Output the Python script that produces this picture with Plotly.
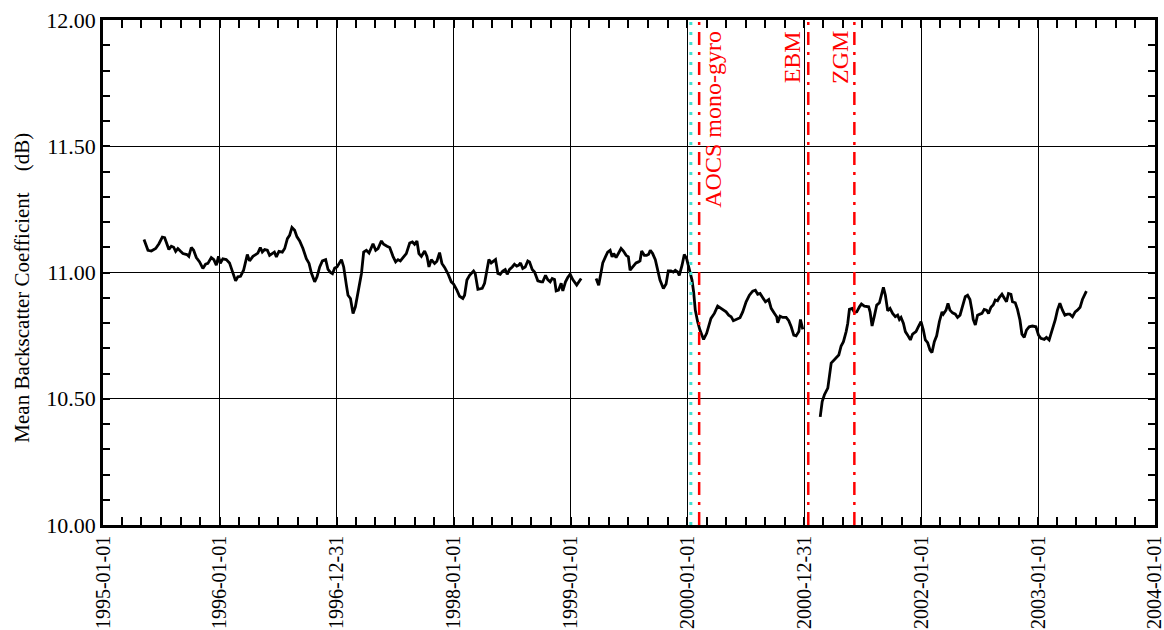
import pandas as pd
import plotly.graph_objects as go

# Mean backscatter coefficient (dB), time in decimal years, three continuous segments
seg1_t = [1995.351, 1995.385, 1995.414, 1995.451, 1995.479, 1995.508, 1995.528, 1995.542, 1995.564, 1995.585,
          1995.605, 1995.622, 1995.641, 1995.662, 1995.684, 1995.718, 1995.735, 1995.756, 1995.776, 1995.799,
          1995.827, 1995.855, 1995.878, 1995.898, 1995.927, 1995.949, 1995.970, 1995.989, 1996.004, 1996.026,
          1996.055, 1996.083, 1996.112, 1996.135, 1996.154, 1996.177, 1996.203, 1996.235, 1996.254, 1996.283,
          1996.306, 1996.325, 1996.346, 1996.363, 1996.383, 1996.406, 1996.425, 1996.449, 1996.466, 1996.483,
          1996.505, 1996.534, 1996.554, 1996.577, 1996.596, 1996.616, 1996.639, 1996.659, 1996.682, 1996.710,
          1996.739, 1996.762, 1996.782, 1996.810, 1996.830, 1996.853, 1996.876, 1996.904, 1996.924, 1996.945,
          1996.962, 1996.981, 1997.001, 1997.039, 1997.058, 1997.081, 1997.095, 1997.116, 1997.138, 1997.158,
          1997.181, 1997.210, 1997.229, 1997.252, 1997.275, 1997.295, 1997.309, 1997.332, 1997.352, 1997.381,
          1997.400, 1997.429, 1997.452, 1997.480, 1997.503, 1997.523, 1997.543, 1997.571, 1997.594, 1997.623,
          1997.646, 1997.665, 1997.685, 1997.702, 1997.723, 1997.751, 1997.771, 1997.788, 1997.808, 1997.836,
          1997.856, 1997.879, 1997.899, 1997.922, 1997.950, 1997.979, 1997.999, 1998.027, 1998.050, 1998.078,
          1998.093, 1998.113, 1998.136, 1998.170, 1998.184, 1998.207, 1998.244, 1998.264, 1998.278, 1998.301,
          1998.321, 1998.341, 1998.358, 1998.378, 1998.398, 1998.420, 1998.441, 1998.458, 1998.478, 1998.501,
          1998.520, 1998.540, 1998.557, 1998.572, 1998.591, 1998.612, 1998.634, 1998.649, 1998.672, 1998.692,
          1998.720, 1998.749, 1998.762, 1998.786, 1998.805, 1998.826, 1998.843, 1998.863, 1998.877, 1998.897,
          1998.920, 1998.934, 1998.957, 1998.976, 1998.997, 1999.019, 1999.053, 1999.091]
seg1_v = [11.131, 11.088, 11.085, 11.095, 11.114, 11.140, 11.138, 11.120, 11.091, 11.104,
          11.100, 11.084, 11.095, 11.085, 11.075, 11.071, 11.064, 11.099, 11.088, 11.059,
          11.042, 11.016, 11.033, 11.036, 11.059, 11.051, 11.029, 11.064, 11.036, 11.054,
          11.051, 11.038, 11.002, 10.967, 10.983, 10.985, 11.009, 11.071, 11.046, 11.064,
          11.071, 11.077, 11.099, 11.081, 11.091, 11.088, 11.068, 11.077, 11.081, 11.062,
          11.084, 11.081, 11.095, 11.134, 11.147, 11.178, 11.167, 11.141, 11.125, 11.095,
          11.055, 11.036, 10.998, 10.963, 10.983, 11.022, 11.046, 11.051, 11.012, 11.000,
          10.995, 11.018, 11.022, 11.051, 11.022, 10.950, 10.910, 10.897, 10.838, 10.864,
          10.930, 10.996, 11.081, 11.088, 11.077, 11.101, 11.114, 11.088, 11.095, 11.125,
          11.112, 11.104, 11.099, 11.064, 11.042, 11.051, 11.046, 11.062, 11.075, 11.117,
          11.121, 11.112, 11.125, 11.075, 11.064, 11.085, 11.064, 11.022, 11.051, 11.036,
          11.045, 11.079, 11.036, 11.020, 10.996, 10.963, 10.954, 10.930, 10.906, 10.897,
          10.910, 10.970, 10.989, 11.006, 10.996, 10.933, 10.937, 10.957, 10.996, 11.051,
          11.038, 11.046, 11.051, 10.996, 10.993, 11.006, 11.012, 10.993, 11.012, 11.022,
          11.033, 11.025, 11.029, 11.038, 11.016, 11.022, 11.046, 11.042, 11.012, 11.002,
          10.967, 10.963, 10.963, 10.989, 10.972, 10.963, 10.976, 10.972, 10.927, 10.930,
          10.957, 10.927, 10.963, 10.980, 10.993, 10.972, 10.950, 10.976]

seg2_t = [1999.219, 1999.241, 1999.262, 1999.276, 1999.299, 1999.318, 1999.339, 1999.356, 1999.370, 1999.390,
          1999.412, 1999.433, 1999.453, 1999.476, 1999.495, 1999.510, 1999.538, 1999.561, 1999.581, 1999.595,
          1999.609, 1999.632, 1999.652, 1999.669, 1999.683, 1999.703, 1999.726, 1999.746, 1999.766, 1999.795,
          1999.818, 1999.837, 1999.860, 1999.880, 1999.897, 1999.917, 1999.931, 1999.955, 1999.974, 1999.994,
          2000.017, 2000.040, 2000.054, 2000.068, 2000.088, 2000.108, 2000.139, 2000.165, 2000.202, 2000.231,
          2000.259, 2000.288, 2000.331, 2000.353, 2000.374, 2000.393, 2000.416, 2000.450, 2000.473, 2000.502,
          2000.530, 2000.558, 2000.581, 2000.601, 2000.621, 2000.644, 2000.667, 2000.695, 2000.716, 2000.744,
          2000.763, 2000.772, 2000.792, 2000.815, 2000.844, 2000.866, 2000.887, 2000.909, 2000.929, 2000.952,
          2000.966, 2000.986]
seg2_v = [10.976, 10.950, 11.002, 11.038, 11.062, 11.081, 11.088, 11.062, 11.075, 11.059,
          11.077, 11.095, 11.085, 11.068, 11.062, 11.009, 11.025, 11.038, 11.042, 11.046,
          11.085, 11.068, 11.068, 11.072, 11.088, 11.075, 11.051, 11.016, 10.970, 10.937,
          10.954, 11.006, 11.006, 11.002, 11.009, 11.002, 10.989, 11.029, 11.071, 11.055,
          11.009, 10.970, 10.923, 10.851, 10.805, 10.772, 10.735, 10.759, 10.818, 10.838,
          10.867, 10.858, 10.844, 10.831, 10.825, 10.809, 10.814, 10.821, 10.844, 10.884,
          10.910, 10.926, 10.930, 10.914, 10.917, 10.901, 10.884, 10.893, 10.858, 10.838,
          10.825, 10.801, 10.827, 10.822, 10.822, 10.809, 10.785, 10.752, 10.749, 10.766,
          10.814, 10.775]

seg3_t = [2001.135, 2001.152, 2001.171, 2001.200, 2001.229, 2001.257, 2001.294, 2001.314, 2001.334, 2001.357,
          2001.371, 2001.385, 2001.408, 2001.428, 2001.448, 2001.471, 2001.488, 2001.513, 2001.550, 2001.562,
          2001.579, 2001.599, 2001.619, 2001.642, 2001.656, 2001.676, 2001.693, 2001.713, 2001.733, 2001.755,
          2001.778, 2001.798, 2001.813, 2001.827, 2001.847, 2001.864, 2001.884, 2001.907, 2001.926, 2001.955,
          2001.978, 2001.998, 2002.018, 2002.035, 2002.055, 2002.075, 2002.092, 2002.112, 2002.132, 2002.155,
          2002.178, 2002.189, 2002.212, 2002.229, 2002.246, 2002.268, 2002.292, 2002.311, 2002.332, 2002.354,
          2002.377, 2002.397, 2002.417, 2002.434, 2002.445, 2002.463, 2002.482, 2002.503, 2002.520, 2002.539,
          2002.559, 2002.576, 2002.597, 2002.616, 2002.634, 2002.653, 2002.668, 2002.691, 2002.710, 2002.730,
          2002.747, 2002.768, 2002.781, 2002.805, 2002.824, 2002.845, 2002.862, 2002.882, 2002.901, 2002.924,
          2002.952, 2002.982, 2003.004, 2003.024, 2003.053, 2003.072, 2003.095, 2003.118, 2003.147, 2003.166,
          2003.187, 2003.209, 2003.230, 2003.252, 2003.272, 2003.295, 2003.318, 2003.337, 2003.360, 2003.380,
          2003.414]
seg3_v = [10.428, 10.489, 10.516, 10.542, 10.641, 10.654, 10.673, 10.709, 10.726, 10.766,
          10.799, 10.854, 10.858, 10.842, 10.844, 10.864, 10.875, 10.867, 10.864, 10.844,
          10.788, 10.828, 10.871, 10.880, 10.904, 10.941, 10.910, 10.848, 10.858, 10.838,
          10.825, 10.831, 10.814, 10.822, 10.799, 10.766, 10.752, 10.733, 10.756, 10.766,
          10.788, 10.805, 10.772, 10.733, 10.722, 10.693, 10.683, 10.726, 10.749, 10.805,
          10.844, 10.835, 10.851, 10.878, 10.851, 10.840, 10.835, 10.822, 10.831, 10.864,
          10.904, 10.910, 10.893, 10.851, 10.814, 10.792, 10.831, 10.835, 10.838, 10.854,
          10.851, 10.838, 10.862, 10.871, 10.891, 10.888, 10.901, 10.914, 10.897, 10.884,
          10.917, 10.914, 10.884, 10.880, 10.854, 10.812, 10.756, 10.743, 10.772, 10.785,
          10.788, 10.785, 10.752, 10.739, 10.735, 10.743, 10.733, 10.766, 10.812, 10.851,
          10.878, 10.851, 10.831, 10.835, 10.835, 10.825, 10.844, 10.851, 10.862, 10.893,
          10.926]

# Axis ticks
x_tick_labels = ["1995-01-01", "1996-01-01", "1996-12-31", "1998-01-01", "1999-01-01",
                 "2000-01-01", "2000-12-31", "2002-01-01", "2003-01-01", "2004-01-01"]
y_tick_values = [10.0, 10.5, 11.0, 11.5, 12.0]

# Platform events
event_dates = ["2000-02-07", "2001-01-13", "2001-06-06"]
event_labels = ["AOCS mono-gyro", "EBM", "ZGM"]
event_label_shift = [13, -16, -15]
cyan_marker_date = "2000-01-12"

FONT = "Liberation Serif"


def to_date(t):
    year = int(t)
    start = pd.Timestamp(year, 1, 1)
    end = pd.Timestamp(year + 1, 1, 1)
    return start + (end - start) * (t - year)


xs, ys = [], []
for seg_t, seg_v in [(seg1_t, seg1_v), (seg2_t, seg2_v), (seg3_t, seg3_v)]:
    xs += [to_date(t) for t in seg_t] + [None]
    ys += list(seg_v) + [None]

fig = go.Figure()
fig.add_trace(go.Scatter(x=xs, y=ys, mode="lines", connectgaps=False,
                         line=dict(color="black", width=2.8), hoverinfo="skip"))

# vertical markers
fig.add_shape(type="line", xref="x", yref="paper", x0=cyan_marker_date, x1=cyan_marker_date,
              y0=0, y1=1, line=dict(color="#40E0D0", width=3, dash="3px,7px"))
for d in event_dates:
    fig.add_shape(type="line", xref="x", yref="paper", x0=d, x1=d, y0=0, y1=1,
                  line=dict(color="#FF0000", width=2.5, dash="13px,7px,3px,7px"))

for d, lab, sh in zip(event_dates, event_labels, event_label_shift):
    fig.add_annotation(x=d, y=0.982, xref="x", yref="paper", text=lab, textangle=-90,
                       showarrow=False, xanchor="center", yanchor="top", xshift=sh,
                       font=dict(family=FONT, size=24, color="#FF0000"))

fig.add_annotation(x=0, y=0.47, xref="paper", yref="paper", xshift=-81,
                   text="Mean Backscatter Coefficient\u00a0\u00a0\u00a0\u00a0(dB)", textangle=-90,
                   showarrow=False, xanchor="center", yanchor="middle",
                   font=dict(family=FONT, size=21, color="black"))

minor_x = pd.date_range("1995-01-01", "2004-01-01", freq="2MS")

fig.update_layout(
    width=1164, height=630,
    margin=dict(l=103, r=9, t=20, b=105, autoexpand=False),
    plot_bgcolor="white", paper_bgcolor="white",
    showlegend=False,
    font=dict(family=FONT, color="black"),
    xaxis=dict(
        type="date", range=["1995-01-01", "2004-01-01 12:00"], automargin=False,
        tickmode="array", tickvals=x_tick_labels, ticktext=x_tick_labels,
        ticklabeloverflow="allow",
        tickangle=-90, tickfont=dict(family=FONT, size=20, color="black"),
        showgrid=True, gridcolor="black", gridwidth=1.3,
        showline=True, linecolor="black", linewidth=2.5, mirror="ticks",
        ticks="inside", ticklen=8, tickwidth=1.5, tickcolor="black",
        minor=dict(tickmode="array", tickvals=list(minor_x), ticks="inside",
                   ticklen=8, tickwidth=1.5, tickcolor="black", showgrid=False),
        zeroline=False,
    ),
    yaxis=dict(
        range=[10, 12], tickmode="array", tickvals=y_tick_values, tickformat=".2f",
        automargin=False,
        tickfont=dict(family=FONT, size=22, color="black"),
        showgrid=True, gridcolor="black", gridwidth=1.3,
        showline=True, linecolor="black", linewidth=2.5, mirror="ticks",
        ticks="inside", ticklen=7, tickwidth=1.5, tickcolor="black",
        minor=dict(dtick=0.1, ticks="inside", ticklen=7, tickwidth=1.5,
                   tickcolor="black", showgrid=False),
        zeroline=False,
    ),
)

fig.write_html("out.html")
